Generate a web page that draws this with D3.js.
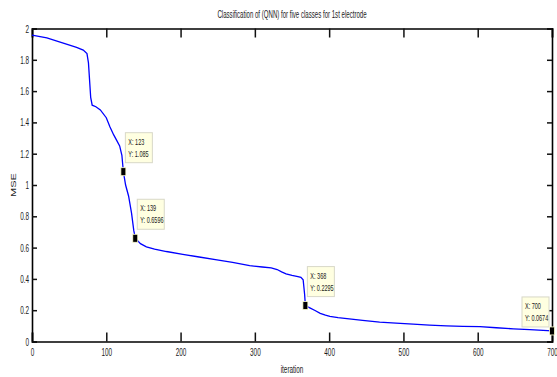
<!DOCTYPE html>
<html>
<head>
<meta charset="utf-8">
<script src="https://cdn.jsdelivr.net/npm/d3@7"></script>
<style>
  body { margin: 0; background: #fff; }
  text { font-family: "Liberation Sans", Arial, sans-serif; fill: #1a1a1a; }
</style>
</head>
<body>
<div id="chart"></div>
<script>
// training curve
const iterations = [0, 20, 40, 60, 69, 74, 76, 79, 81, 86, 92, 100, 105, 110, 114, 118, 121, 123, 126, 130, 134, 137, 139, 146, 154, 165, 181, 203, 225, 249, 270, 293, 310, 322, 330, 336, 342, 350, 358, 362, 365, 367, 368, 374, 381, 388, 395, 401, 412, 424, 445, 468, 490, 513, 535, 558, 580, 603, 625, 648, 670, 700]
const mse = [1.958, 1.94, 1.91, 1.88, 1.862, 1.84, 1.78, 1.56, 1.51, 1.5, 1.48, 1.43, 1.37, 1.32, 1.285, 1.25, 1.19, 1.085, 1.0, 0.93, 0.82, 0.71, 0.6596, 0.625, 0.605, 0.59, 0.575, 0.557, 0.54, 0.522, 0.505, 0.485, 0.476, 0.47, 0.46, 0.445, 0.432, 0.422, 0.415, 0.41, 0.395, 0.3, 0.2295, 0.215, 0.198, 0.18, 0.168, 0.16, 0.152, 0.146, 0.135, 0.124, 0.117, 0.111, 0.105, 0.1, 0.097, 0.095, 0.088, 0.081, 0.076, 0.0674]

// data tips
const tipX = [123, 139, 368, 700]
const tipY = ["1.085", "0.6596", "0.2295", "0.0674"]
const tipSide = ["right", "right", "right", "left"]

const xTicks = [0, 100, 200, 300, 400, 500, 600, 700]
const yTicks = [0, 0.2, 0.4, 0.6, 0.8, 1, 1.2, 1.4, 1.6, 1.8, 2]

const titleText = "Classification of (QNN) for five classes for 1st electrode"
const xLabel = "iteration"
const yLabel = "MSE"

const width = 557, height = 377
const margin = { top: 28.5, right: 5, bottom: 35.5, left: 32 }
const sx = 0.58 // the picture is squeezed sideways

const svg = d3.select("#chart").append("svg")
  .attr("width", width)
  .attr("height", height)

svg.append("rect").attr("width", width).attr("height", height).attr("fill", "#fff")

const x = d3.scaleLinear().domain([0, 700]).range([margin.left, width - margin.right])
const y = d3.scaleLinear().domain([0, 2]).range([height - margin.bottom, margin.top])

function squeeze(sel) {
  sel.each(function() {
    const t = d3.select(this)
    const tx = +t.attr("x") || 0
    t.attr("x", tx / sx).attr("transform", "scale(" + sx + ",1)")
  })
}

// axes, MATLAB style: ticks inside on all four sides
const axBottom = svg.append("g")
  .attr("transform", "translate(0," + y(0) + ")")
  .call(d3.axisBottom(x).tickValues(xTicks).tickSize(-9).tickPadding(7).tickFormat(d3.format("d")))
const axTop = svg.append("g")
  .attr("transform", "translate(0," + y(2) + ")")
  .call(d3.axisTop(x).tickValues(xTicks).tickSize(-9).tickFormat(""))
const axLeft = svg.append("g")
  .attr("transform", "translate(" + x(0) + ",0)")
  .call(d3.axisLeft(y).tickValues(yTicks).tickSize(-5).tickPadding(3).tickFormat(d3.format("")))
const axRight = svg.append("g")
  .attr("transform", "translate(" + x(700) + ",0)")
  .call(d3.axisRight(y).tickValues(yTicks).tickSize(-5).tickFormat(""))

;[axBottom, axTop, axLeft, axRight].forEach(g => {
  g.select(".domain").attr("stroke", "#000").attr("stroke-width", 1.6)
  g.selectAll(".tick line").attr("stroke", "#111").attr("stroke-width", 1.5)
  g.selectAll(".tick text").attr("font-size", 11).attr("fill", "#1a1a1a")
    .style("font-family", "'Liberation Sans', Arial, sans-serif")
})
axBottom.selectAll(".tick text").call(squeeze)
axLeft.selectAll(".tick text").call(squeeze)

// curve
const line = d3.line()
  .x((d, i) => x(iterations[i]))
  .y(d => y(d))

svg.append("path")
  .datum(mse)
  .attr("fill", "none")
  .attr("stroke", "#0000ff")
  .attr("stroke-width", 1.3)
  .attr("d", line)

// data tips
tipX.forEach((tx, i) => {
  const px = x(tx), py = y(+tipY[i])
  const bw = 27, bh = 30
  const bx = tipSide[i] === "right" ? px + 2 : px - bw - 3
  const by = tipSide[i] === "right" ? py - bh - 9 : py - bh - 4
  const g = svg.append("g")
  g.append("rect")
    .attr("x", bx).attr("y", by).attr("width", bw).attr("height", bh)
    .attr("fill", "#ffffe1").attr("stroke", "#d8d8c8").attr("stroke-width", 1)
  g.append("text")
    .attr("transform", "translate(" + (bx + 3) + "," + (by + 12) + ") scale(" + sx + ",1)")
    .attr("font-size", 9.5)
    .text("X: " + tx)
  g.append("text")
    .attr("transform", "translate(" + (bx + 3) + "," + (by + 24) + ") scale(" + sx + ",1)")
    .attr("font-size", 9.5)
    .text("Y: " + tipY[i])
  g.append("rect")
    .attr("x", px - 2.5).attr("y", py - 4).attr("width", 5).attr("height", 8)
    .attr("fill", "#000").attr("stroke", "#ffffd0").attr("stroke-width", 0.8)
})

// title and labels
svg.append("text")
  .attr("transform", "translate(" + ((x(0) + x(700)) / 2) + ",18) scale(" + sx + ",1)")
  .attr("text-anchor", "middle")
  .attr("font-size", 10.5)
  .text(titleText)

svg.append("text")
  .attr("transform", "translate(" + ((x(0) + x(700)) / 2) + ",373) scale(" + sx + ",1)")
  .attr("text-anchor", "middle")
  .attr("font-size", 11)
  .text(xLabel)

svg.append("text")
  .attr("transform", "translate(16," + ((y(0) + y(2)) / 2) + ") scale(" + sx + ",1) rotate(-90)")
  .attr("text-anchor", "middle")
  .attr("font-size", 11)
  .text(yLabel)
</script>
</body>
</html>
